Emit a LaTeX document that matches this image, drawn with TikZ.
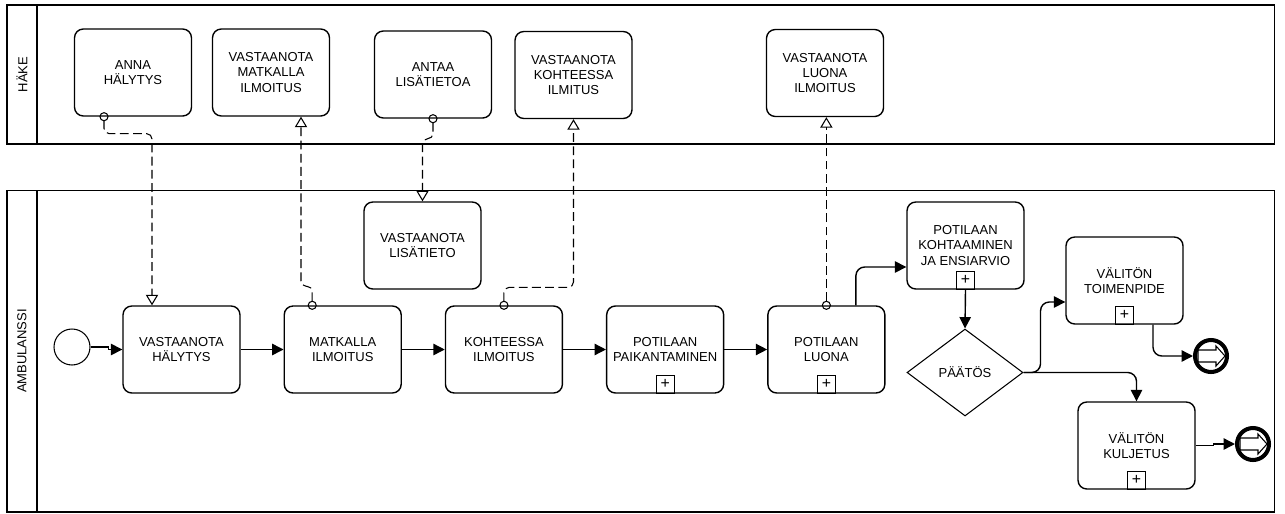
\documentclass[tikz,border=0pt]{standalone}
\usepackage{fontspec}
\setmainfont{Liberation Sans}
\usetikzlibrary{positioning,shapes.geometric,arrows.meta,calc}

\begin{document}
\begin{tikzpicture}[x=0.02cm, y=-0.02cm, -{Triangle[length=6.5pt,width=6.5pt]}, thick, node distance=3.225cm,
    font=\fontsize{7.4}{8.6}\selectfont,
    task/.style = {draw, rectangle, rounded corners=5pt, minimum width=2.34cm, minimum height=1.74cm, align=center},
    plus/.style = {draw, semithick, rectangle, minimum size=0.36cm, inner sep=0pt, above, font=\fontsize{9}{9}\selectfont},
    lane/.style = {draw, semithick, rectangle, inner sep=0pt},
    msg/.style = {semithick, dash pattern=on 5pt off 2.5pt, rounded corners=3pt, shorten <=-2.6pt, {Circle[open,length=5.2pt]}-{Triangle[open,length=6pt,width=7pt]}},
    ev/.style = {draw, semithick, circle, minimum size=0.72cm, inner sep=0pt}]
    \useasboundingbox (0,0) rectangle (1285,514);

    % lanes
    \node[lane, minimum width=25.36cm, minimum height=2.78cm] (H) at (641,74.5) {};
    \node[lane, minimum width=2.78cm, minimum height=0.6cm, rotate=90] (Ht) at (22,74.5) {HÄKE};
    \node[lane, minimum width=25.36cm, minimum height=6.44cm] (A) at (641,351) {};
    \node[lane, minimum width=6.44cm, minimum height=0.6cm, rotate=90] (At) at (22,351) {AMBULANSSI};

    % HÄKE
    \node[task] (1) at (133,72.5) {ANNA\\HÄLYTYS};
    \node[task] (2) at (271,72.5) {VASTAANOTA\\MATKALLA\\ILMOITUS};
    \node[task] (3) at (433,74.5) {ANTAA\\LISÄTIETOA};
    \node[task] (4) at (573.5,75) {VASTAANOTA\\KOHTEESSA\\ILMITUS};
    \node[task] (5) at (825,73) {VASTAANOTA\\LUONA\\ILMOITUS};

    % AMBULANSSI
    \node[ev] (s) at (72,347) {};
    \node[task] (6) at (181.5,349.5) {VASTAANOTA\\HÄLYTYS};
    \node[task] (7) [right of=6] {MATKALLA\\ILMOITUS};
    \node[task] (8) [right of=7] {KOHTEESSA\\ILMOITUS};
    \node[task] (9) [right of=8] {POTILAAN\\PAIKANTAMINEN};
    \node[task] (10) [right of=9] {POTILAAN\\LUONA};
    \node[task] (11) at (422.5,245.5) {VASTAANOTA\\LISÄTIETO};
    \node[task] (12) at (965.5,245.5) {POTILAAN\\KOHTAAMINEN\\JA ENSIARVIO};
    \node[diamond, draw, semithick, aspect=1.33, minimum width=2.32cm, minimum height=1.74cm, inner sep=0pt] (13) at (965,372.5) {PÄÄTÖS};
    \node[task] (14) at (1124.5,280.5) {VÄLITÖN\\TOIMENPIDE};
    \node[task] (15) at (1136.5,445.5) {VÄLITÖN\\KULJETUS};
    \node[ev, line width=2.3pt, minimum size=0.64cm] (e1) at (1211,356) {};
    \node[ev, line width=2.3pt, minimum size=0.64cm] (e2) at (1253,444) {};

    \node[plus] (9m) at (9.south) {+};
    \node[plus] (10m) at (10.south) {+};
    \node[plus] (12m) at (12.south) {+};
    \node[plus] (14m) at (14.south) {+};
    \node[plus] (15m) at (15.south) {+};

    \foreach \e in {e1,e2}
        \draw[-, semithick] ($(\e)+(-13,-6)$) -- ++(18,0) -- ++(0,-4) -- ++(9,10) -- ++(-9,10) -- ++(0,-4) -- ++(-18,0) -- cycle;

    % sequence flows
    \draw (s.east) -- ++(18,0) |- (6.west);
    \draw (6) -- (7);
    \draw (7) -- (8);
    \draw (8) -- (9);
    \draw (9) -- (10);
    \draw[rounded corners=5pt] ($(10.north)+(29.5,0)$) |- ($(12.west)+(0,21.5)$);
    \draw (12.south) -- (13.north);
    \draw[rounded corners=5pt] (13.east) -- ++(17,0) |- ($(14.west)+(0,21.5)$);
    \draw[rounded corners=5pt] (13.east) -| (15.north);
    \draw[rounded corners=5pt] ($(14.south)+(28.5,0)$) |- (e1);
    \draw (15.east) -- ++(18,0) |- (e2);

    % message flows
    \draw[msg] ($(1.south)+(-29,0)$) -- ++(0,17) -| ($(6.north)+(-29.5,0)$);
    \draw[msg] ($(7.north)+(-30.5,0)$) -- ++(0,-19) -| ($(2.south)+(30,0)$);
    \draw[msg] (3.south) -- ++(0,20) -| (11.north);
    \draw[msg] (8.north) -- ++(0,-18) -| (4.south);
    \draw[msg] (10.north) -- (10.north |- 5.south);
\end{tikzpicture}
\end{document}
